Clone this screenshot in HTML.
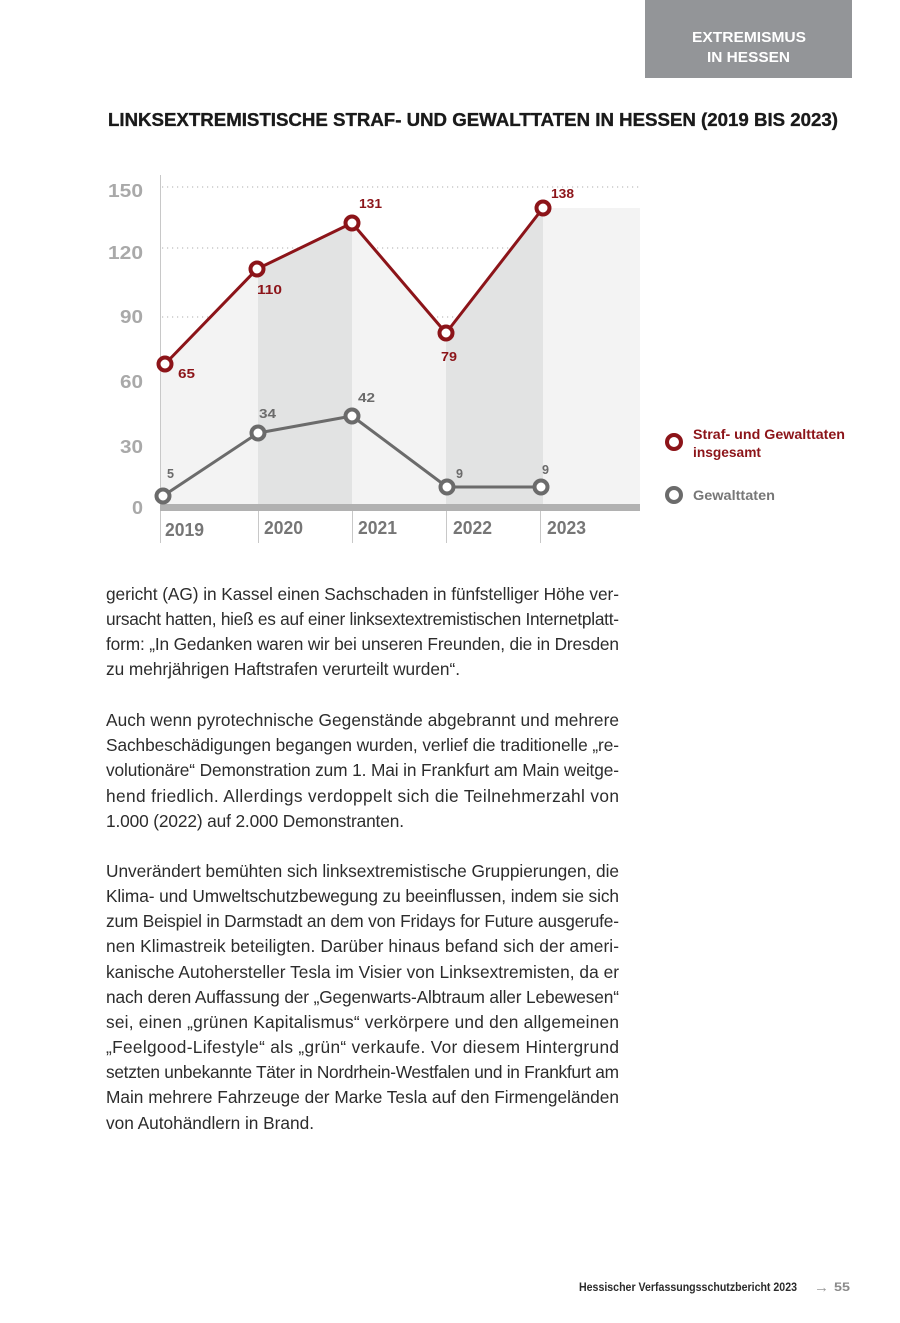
<!DOCTYPE html>
<html><head><meta charset="utf-8">
<style>
html,body{margin:0;padding:0;background:#fff;}
svg{display:block;}
</style></head>
<body>
<svg width="900" height="1323" viewBox="0 0 900 1323" xmlns="http://www.w3.org/2000/svg" font-family="'Liberation Sans', sans-serif">
  <rect x="0" y="0" width="900" height="1323" fill="#ffffff"/>

  <!-- Header box -->
  <rect x="645" y="0" width="207" height="78" fill="#939598"/>
  <text x="749" y="42" font-size="15" font-weight="bold" fill="#ffffff" text-anchor="middle" textLength="114" lengthAdjust="spacingAndGlyphs">EXTREMISMUS</text>
  <text x="748.5" y="62" font-size="15" font-weight="bold" fill="#ffffff" text-anchor="middle" textLength="83" lengthAdjust="spacingAndGlyphs">IN HESSEN</text>

  <!-- Title -->
  <text x="108" y="126" font-size="18" font-weight="bold" fill="#1a1a1a" stroke="#1a1a1a" stroke-width="0.35" textLength="730" lengthAdjust="spacingAndGlyphs">LINKSEXTREMISTISCHE STRAF- UND GEWALTTATEN IN HESSEN (2019 BIS 2023)</text>

  <!-- Gridlines (dotted) -->
  <g stroke="#bdbdbd" stroke-width="1.2" stroke-dasharray="1.2 3.8">
    <line x1="162" y1="187" x2="640" y2="187"/>
    <line x1="162" y1="248" x2="640" y2="248"/>
    <line x1="162" y1="317" x2="640" y2="317"/>
  </g>

  <!-- Area fills -->
  <polygon points="160,368 164,364 258,268 258,504 160,504" fill="#f3f3f3"/>
  <polygon points="258,268 352,223 352,504 258,504" fill="#e2e3e3"/>
  <polygon points="352,223 446,333 446,504 352,504" fill="#f3f3f3"/>
  <polygon points="446,333 543,208 543,504 446,504" fill="#e2e3e3"/>
  <rect x="543" y="208" width="97" height="296" fill="#f3f3f3"/>

  <!-- Axis lines -->
  <line x1="160.5" y1="175" x2="160.5" y2="543" stroke="#c8c8c8" stroke-width="1"/>
  <g stroke="#c8c8c8" stroke-width="1">
    <line x1="258.5" y1="511" x2="258.5" y2="543"/>
    <line x1="352.5" y1="511" x2="352.5" y2="543"/>
    <line x1="446.5" y1="511" x2="446.5" y2="543"/>
    <line x1="540.5" y1="511" x2="540.5" y2="543"/>
  </g>
  <rect x="160" y="504" width="480" height="7" fill="#b1b1b1"/>

  <!-- Y labels -->
  <g font-size="18.5" font-weight="bold" fill="#a9a9a9" text-anchor="end">
    <text x="143" y="197" textLength="35" lengthAdjust="spacingAndGlyphs">150</text>
    <text x="143" y="259" textLength="35" lengthAdjust="spacingAndGlyphs">120</text>
    <text x="143" y="323" textLength="23" lengthAdjust="spacingAndGlyphs">90</text>
    <text x="143" y="388" textLength="23" lengthAdjust="spacingAndGlyphs">60</text>
    <text x="143" y="453" textLength="23" lengthAdjust="spacingAndGlyphs">30</text>
    <text x="143" y="514" textLength="11" lengthAdjust="spacingAndGlyphs">0</text>
  </g>

  <!-- X labels -->
  <g font-size="18.5" font-weight="bold" fill="#767676">
    <text x="165" y="536" textLength="39" lengthAdjust="spacingAndGlyphs">2019</text>
    <text x="264" y="534" textLength="39" lengthAdjust="spacingAndGlyphs">2020</text>
    <text x="358" y="534" textLength="39" lengthAdjust="spacingAndGlyphs">2021</text>
    <text x="453" y="534" textLength="39" lengthAdjust="spacingAndGlyphs">2022</text>
    <text x="547" y="534" textLength="39" lengthAdjust="spacingAndGlyphs">2023</text>
  </g>

  <!-- Red series -->
  <polyline points="165,364 257,269 352,223 446,333 543,208" fill="none" stroke="#8c1419" stroke-width="3" stroke-linejoin="round"/>
  <g fill="#ffffff" stroke="#8c1419" stroke-width="4">
    <circle cx="165" cy="364" r="6.5"/>
    <circle cx="257" cy="269" r="6.5"/>
    <circle cx="352" cy="223" r="6.5"/>
    <circle cx="446" cy="333" r="6.5"/>
    <circle cx="543" cy="208" r="6.5"/>
  </g>
  <g font-size="13" font-weight="bold" fill="#8c1419">
    <text x="178" y="378" textLength="17" lengthAdjust="spacingAndGlyphs">65</text>
    <text x="257" y="294" textLength="25" lengthAdjust="spacingAndGlyphs">110</text>
    <text x="359" y="208" textLength="23" lengthAdjust="spacingAndGlyphs">131</text>
    <text x="441" y="361" textLength="16" lengthAdjust="spacingAndGlyphs">79</text>
    <text x="551" y="198" textLength="23" lengthAdjust="spacingAndGlyphs">138</text>
  </g>

  <!-- Gray series -->
  <polyline points="163,496 258,433 352,416 447,487 541,487" fill="none" stroke="#6b6b6b" stroke-width="3" stroke-linejoin="round"/>
  <g fill="#ffffff" stroke="#6b6b6b" stroke-width="4">
    <circle cx="163" cy="496" r="6.5"/>
    <circle cx="258" cy="433" r="6.5"/>
    <circle cx="352" cy="416" r="6.5"/>
    <circle cx="447" cy="487" r="6.5"/>
    <circle cx="541" cy="487" r="6.5"/>
  </g>
  <g font-size="13" font-weight="bold" fill="#6b6b6b">
    <text x="167" y="478" textLength="7" lengthAdjust="spacingAndGlyphs">5</text>
    <text x="259" y="418" textLength="17" lengthAdjust="spacingAndGlyphs">34</text>
    <text x="358" y="402" textLength="17" lengthAdjust="spacingAndGlyphs">42</text>
    <text x="456" y="478" textLength="7" lengthAdjust="spacingAndGlyphs">9</text>
    <text x="542" y="474" textLength="7" lengthAdjust="spacingAndGlyphs">9</text>
  </g>

  <!-- Legend -->
  <circle cx="674" cy="442" r="7" fill="#ffffff" stroke="#8c1419" stroke-width="4"/>
  <text x="693" y="439" font-size="14" font-weight="bold" fill="#8c1419" textLength="152" lengthAdjust="spacingAndGlyphs">Straf- und Gewalttaten</text>
  <text x="693" y="457" font-size="14" font-weight="bold" fill="#8c1419" textLength="68" lengthAdjust="spacingAndGlyphs">insgesamt</text>
  <circle cx="674" cy="495" r="7" fill="#ffffff" stroke="#6b6b6b" stroke-width="4"/>
  <text x="693" y="500" font-size="14" font-weight="bold" fill="#777777" textLength="82" lengthAdjust="spacingAndGlyphs">Gewalttaten</text>

  <!-- Body text -->
  <g font-size="17.3" fill="#2c2c2c">
    <text x="106" y="600" textLength="513" lengthAdjust="spacing">gericht (AG) in Kassel einen Sachschaden in fünfstelliger Höhe ver-</text>
    <text x="106" y="625" textLength="513" lengthAdjust="spacing">ursacht hatten, hieß es auf einer linksextextremistischen Internetplatt-</text>
    <text x="106" y="650" textLength="513" lengthAdjust="spacing">form: „In Gedanken waren wir bei unseren Freunden, die in Dresden</text>
    <text x="106" y="675" textLength="354" lengthAdjust="spacing">zu mehrjährigen Haftstrafen verurteilt wurden“.</text>

    <text x="106" y="726" textLength="513" lengthAdjust="spacing">Auch wenn pyrotechnische Gegenstände abgebrannt und mehrere</text>
    <text x="106" y="751" textLength="513" lengthAdjust="spacing">Sachbeschädigungen begangen wurden, verlief die traditionelle „re-</text>
    <text x="106" y="776" textLength="513" lengthAdjust="spacing">volutionäre“ Demonstration zum 1. Mai in Frankfurt am Main weitge-</text>
    <text x="106" y="802" textLength="513" lengthAdjust="spacing">hend friedlich. Allerdings verdoppelt sich die Teilnehmerzahl von</text>
    <text x="106" y="827" textLength="298" lengthAdjust="spacing">1.000 (2022) auf 2.000 Demonstranten.</text>

    <text x="106" y="877" textLength="513" lengthAdjust="spacing">Unverändert bemühten sich linksextremistische Gruppierungen, die</text>
    <text x="106" y="902" textLength="513" lengthAdjust="spacing">Klima- und Umweltschutzbewegung zu beeinflussen, indem sie sich</text>
    <text x="106" y="927" textLength="513" lengthAdjust="spacing">zum Beispiel in Darmstadt an dem von Fridays for Future ausgerufe-</text>
    <text x="106" y="952" textLength="513" lengthAdjust="spacing">nen Klimastreik beteiligten. Darüber hinaus befand sich der ameri-</text>
    <text x="106" y="978" textLength="513" lengthAdjust="spacing">kanische Autohersteller Tesla im Visier von Linksextremisten, da er</text>
    <text x="106" y="1003" textLength="513" lengthAdjust="spacing">nach deren Auffassung der „Gegenwarts-Albtraum aller Lebewesen“</text>
    <text x="106" y="1028" textLength="513" lengthAdjust="spacing">sei, einen „grünen Kapitalismus“ verkörpere und den allgemeinen</text>
    <text x="106" y="1053" textLength="513" lengthAdjust="spacing">„Feelgood-Lifestyle“ als „grün“ verkaufe. Vor diesem Hintergrund</text>
    <text x="106" y="1078" textLength="513" lengthAdjust="spacing">setzten unbekannte Täter in Nordrhein-Westfalen und in Frankfurt am</text>
    <text x="106" y="1103" textLength="513" lengthAdjust="spacing">Main mehrere Fahrzeuge der Marke Tesla auf den Firmengeländen</text>
    <text x="106" y="1129" textLength="208" lengthAdjust="spacing">von Autohändlern in Brand.</text>
  </g>

  <!-- Footer -->
  <text x="579" y="1291" font-size="11.5" font-weight="bold" fill="#2b2b2b" textLength="218" lengthAdjust="spacingAndGlyphs">Hessischer Verfassungsschutzbericht 2023</text>
  <text x="814" y="1292" font-size="15" fill="#9a9a9a">→</text>
  <text x="834" y="1291" font-size="11.5" font-weight="bold" fill="#8a8a8a" textLength="16" lengthAdjust="spacingAndGlyphs">55</text>
</svg>
</body></html>
